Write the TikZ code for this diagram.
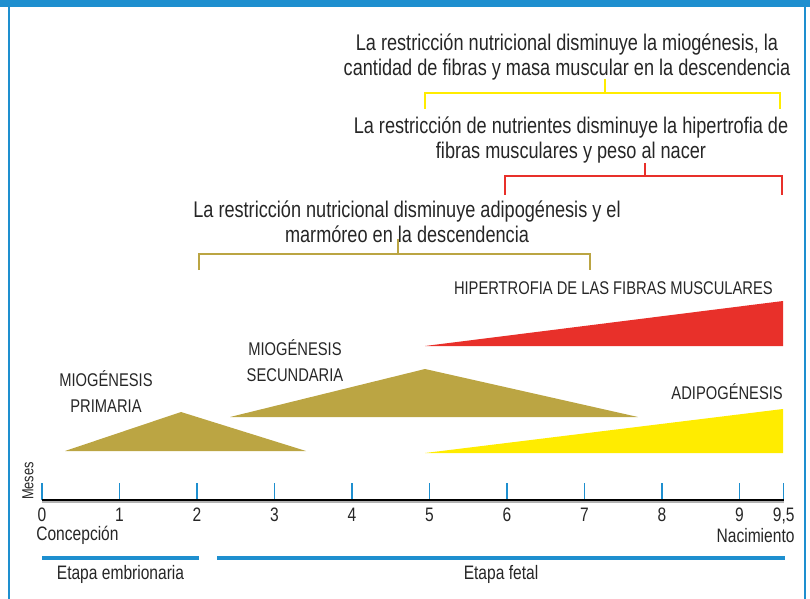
\documentclass[tikz,border=0pt]{standalone}
\usepackage{fontspec}
\setmainfont{Liberation Sans}[FakeStretch=0.8]
\usetikzlibrary{calc,positioning}

\definecolor{frameblue}{HTML}{1E8FCF}
\definecolor{miogold}{HTML}{BBA543}
\definecolor{fibrered}{HTML}{E8302A}
\definecolor{adiyellow}{HTML}{FFEC00}

\begin{document}
\begin{tikzpicture}[x=0.75pt,y=-0.75pt,
      every node/.style={inner sep=0pt,text=black!85},
      note/.style={align=center,font=\fontsize{17}{19}\selectfont},
      phase/.style={align=center,font=\fontsize{13.8}{19.5}\selectfont},
      axislabel/.style={font=\fontsize{14.6}{16}\selectfont},
      bracket/.style={line width=2.2pt},
      tickmark/.style={frameblue,line width=0.9pt},
      stage/.style={frameblue,line width=3pt}
   ]
      \useasboundingbox (0,0) rectangle (810,599);
      \fill[frameblue] (0,0) rectangle (810,7);
      \draw[frameblue,line width=1.5pt] (8.5,7) -- (8.5,599);
      \draw[frameblue,line width=1.5pt] (805,7) -- (805,599);

      % growth curves
      \fill[miogold] (65,451) -- (181,412) -- (306,451) -- cycle;
      \fill[miogold] (230,417) -- (425,369) -- (638,417) -- cycle;
      \fill[fibrered] (425,346) -- (783,301) -- (783,346) -- cycle;
      \fill[adiyellow] (425,453) -- (783,409) -- (783,453) -- cycle;

      \node[phase] (prim) at (106,392) {MIOGÉNESIS\\PRIMARIA};
      \node[phase] (sec) at (295,361) {MIOGÉNESIS\\SECUNDARIA};
      \node[phase,anchor=east] (hip) at (773,288) {HIPERTROFIA DE LAS FIBRAS MUSCULARES};
      \node[phase,anchor=east] (adi) at (783,392) {ADIPOGÉNESIS};

      % effects of restriction
      \node[note] (effY) at (567,57) {La restricción nutricional disminuye la miogénesis, la\\cantidad de fibras y masa muscular en la descendencia};
      \node[note] (effR) at (571,140) {La restricción de nutrientes disminuye la hipertrofia de\\fibras musculares y peso al nacer};
      \node[note] (effO) at (407,222) {La restricción nutricional disminuye adipogénesis y el\\marmóreo en la descendencia};

      \coordinate (yL) at (425,109); \coordinate (yTop) at (605,93);
      \coordinate (yR) at (780,109); \coordinate (yStem) at (605,79);
      \coordinate (rL) at (505,195); \coordinate (rTop) at (645,176);
      \coordinate (rR) at (782,195); \coordinate (rStem) at (645,163);
      \coordinate (oL) at (199,270); \coordinate (oTop) at (398,254);
      \coordinate (oR) at (590,270); \coordinate (oStem) at (398,239);

      \draw[bracket,adiyellow] (yL) |- (yTop) -| (yR);
      \draw[bracket,adiyellow] (yStem) -- (yTop);
      \draw[bracket,fibrered] (rL) |- (rTop) -| (rR);
      \draw[bracket,fibrered] (rStem) -- (rTop);
      \draw[bracket,miogold] (oL) |- (oTop) -| (oR);
      \draw[bracket,miogold] (oStem) -- (oTop);

      % time axis
      \foreach \m/\lab [count=\i] in {0/0,1/1,2/2,3/3,4/4,5/5,6/6,7/7,8/8,9/9,9.57/{9,5}}{
         \coordinate (t\i) at ({42+\m*77.5},500);
         \draw[tickmark] (t\i) -- ++(0,-17);
         \node[axislabel,below=6pt of t\i] (n\i) {\lab};
      }
      \draw[black!30,line width=1.5pt] ([yshift=-1.6pt]t1) -- ([yshift=-1.6pt]t11);
      \draw[line width=2.2pt] (t1) -- (t11);
      \node[font=\fontsize{12}{13}\selectfont,rotate=90] (meses) at (28,481) {Meses};

      \node[axislabel,anchor=north west] (conc) at ([yshift=-3pt,xshift=-1pt]n1.south west) {Concepción};
      \node[axislabel,anchor=north east] (nac) at ([yshift=-3pt]n11.south east) {Nacimiento};

      \coordinate (eA) at (42,558); \coordinate (eB) at (199,558);
      \coordinate (fA) at (217,558); \coordinate (fB) at (785,558);
      \coordinate (eMid) at ($(eA)!0.5!(eB)$);
      \coordinate (fMid) at ($(fA)!0.5!(fB)$);
      \draw[stage] (eA) -- (eB);
      \draw[stage] (fA) -- (fB);
      \node[axislabel,below=5pt of eMid] (emb) {Etapa embrionaria};
      \node[axislabel,below=5pt of fMid] (fet) {Etapa fetal};
   \end{tikzpicture}
\end{document}
